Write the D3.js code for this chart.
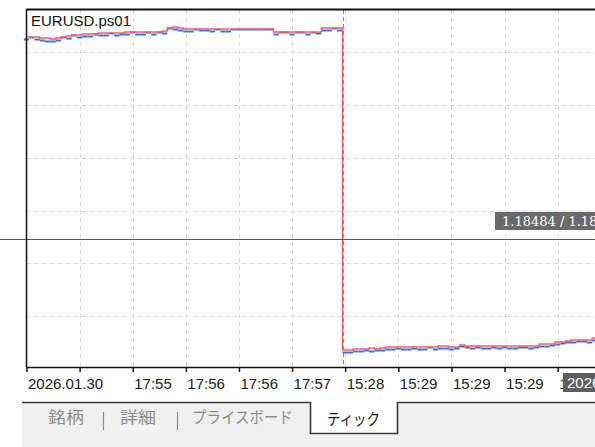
<!DOCTYPE html>
<html>
<head>
<meta charset="utf-8">
<script src="https://cdn.jsdelivr.net/npm/d3@7"></script>
<style>
  body { margin: 0; background: #fff; }
  svg { display: block; }
</style>
</head>
<body>
<svg id="chart" width="595" height="447"></svg>
<script>
// ask (red) and bid (blue) per tick
const askPrices = [
  1.18686, 1.18686, 1.18686, 1.18685, 1.18685, 1.18684, 1.18685, 1.18686, 1.18687, 1.18688,
  1.18688, 1.18689, 1.18689, 1.18689, 1.18690, 1.18690, 1.18690, 1.18690, 1.18690, 1.18691,
  1.18691, 1.18691, 1.18691, 1.18691, 1.18691, 1.18691, 1.18692, 1.18695, 1.18696, 1.18695,
  1.18694, 1.18694, 1.18694, 1.18694, 1.18694, 1.18694, 1.18694, 1.18694, 1.18694, 1.18694,
  1.18694, 1.18694, 1.18694, 1.18694, 1.18694, 1.18694, 1.18694, 1.18691, 1.18691, 1.18691,
  1.18691, 1.18691, 1.18691, 1.18691, 1.18691, 1.18691, 1.18695, 1.18695, 1.18695, 1.18695,
  1.18373, 1.18373, 1.18374, 1.18374, 1.18374, 1.18375, 1.18374, 1.18375, 1.18376, 1.18376,
  1.18376, 1.18376, 1.18376, 1.18376, 1.18376, 1.18376, 1.18376, 1.18376, 1.18377, 1.18377,
  1.18376, 1.18376, 1.18378, 1.18377, 1.18377, 1.18377, 1.18377, 1.18377, 1.18377, 1.18377,
  1.18377, 1.18377, 1.18377, 1.18377, 1.18377, 1.18377, 1.18377, 1.18379, 1.18379, 1.18379,
  1.18381, 1.18381, 1.18382, 1.18383, 1.18383, 1.18383, 1.18383, 1.18385
];
const bidPrices = [
  1.18684, 1.18686, 1.18684, 1.18683, 1.18682, 1.18682, 1.18683, 1.18686, 1.18685, 1.18688,
  1.18686, 1.18687, 1.18687, 1.18689, 1.18688, 1.18688, 1.18690, 1.18688, 1.18689, 1.18689,
  1.18691, 1.18689, 1.18689, 1.18691, 1.18689, 1.18691, 1.18690, 1.18695, 1.18694, 1.18693,
  1.18692, 1.18692, 1.18694, 1.18693, 1.18693, 1.18692, 1.18694, 1.18692, 1.18692, 1.18694,
  1.18694, 1.18694, 1.18694, 1.18694, 1.18694, 1.18694, 1.18694, 1.18689, 1.18691, 1.18691,
  1.18689, 1.18691, 1.18691, 1.18689, 1.18691, 1.18690, 1.18693, 1.18693, 1.18695, 1.18693,
  1.18371, 1.18371, 1.18372, 1.18372, 1.18373, 1.18372, 1.18373, 1.18373, 1.18374, 1.18374,
  1.18375, 1.18374, 1.18374, 1.18375, 1.18374, 1.18374, 1.18376, 1.18374, 1.18375, 1.18375,
  1.18374, 1.18375, 1.18377, 1.18376, 1.18375, 1.18376, 1.18375, 1.18375, 1.18376, 1.18375,
  1.18376, 1.18375, 1.18375, 1.18376, 1.18376, 1.18375, 1.18376, 1.18377, 1.18377, 1.18378,
  1.18379, 1.18380, 1.18381, 1.18381, 1.18382, 1.18382, 1.18381, 1.18383
];
const timeTicks = [0, 10, 20, 30, 40, 50, 60, 70, 80, 90, 100];
const timeLabels = ["2026.01.30", "", "17:55", "17:56", "17:56", "17:57", "15:28", "15:29", "15:29", "15:29", "15:29"];
const gridPrices = [1.18671, 1.18618, 1.18565, 1.18512, 1.18460, 1.18407];
const crossPrice = 1.18484;
const crossTick = 59.6;
const crossPriceText = "1.18484 / 1.18486";
const crossTimeText = "2026.01.30 15:29";
const symbolName = "EURUSD.ps01";
const tabNames = ["銘柄", "詳細", "プライスボード", "ティック"];

const svg = d3.select("#chart");
const W = 595, H = 447;
const plotLeft = 26.5, plotTop = 10, plotBottom = 367;

const x = d3.scaleLinear().domain([0, 107.4]).range([plotLeft, 597]);
const y = d3.scaleLinear().domain([1.18355, 1.18713]).range([368, 10]);
const step = x(1) - x(0);

svg.append("rect").attr("width", W).attr("height", H).attr("fill", "#fff");

// grid
const grid = svg.append("g").attr("stroke", "#d9d9d9").attr("stroke-dasharray", "4,4");
grid.selectAll("line.v").data(timeTicks.slice(1)).enter().append("line")
  .attr("x1", d => Math.round(x(d)) + 0.5).attr("x2", d => Math.round(x(d)) + 0.5)
  .attr("y1", plotTop).attr("y2", plotBottom);
grid.selectAll("line.h").data(gridPrices).enter().append("line")
  .attr("x1", plotLeft).attr("x2", W)
  .attr("y1", d => Math.round(y(d)) + 0.5).attr("y2", d => Math.round(y(d)) + 0.5);

// vertical crosshair
svg.append("line")
  .attr("x1", Math.round(x(crossTick)) + 0.5).attr("x2", Math.round(x(crossTick)) + 0.5)
  .attr("y1", plotTop).attr("y2", plotBottom)
  .attr("stroke", "#8a8a8a").attr("stroke-dasharray", "4,3");

// bid ticks as short blue dashes
const idx = d3.range(askPrices.length);
svg.append("g").selectAll("rect").data(idx).enter().append("rect")
  .attr("x", i => x(i) - step / 2).attr("width", step)
  .attr("y", i => y(bidPrices[i]) - 0.5).attr("height", 2)
  .attr("fill", "#3272f5");

// ask line
const askLine = d3.line().x(i => x(i)).y(i => y(askPrices[i])).curve(d3.curveStep);
svg.append("path").attr("d", askLine(idx)).attr("fill", "none")
  .attr("stroke", "#ff5f5f").attr("stroke-width", 1.5);

// horizontal crosshair
svg.append("line").attr("x1", 0).attr("x2", W)
  .attr("y1", Math.round(y(crossPrice)) + 0.5).attr("y2", Math.round(y(crossPrice)) + 0.5)
  .attr("stroke", "#5a5a5a").attr("stroke-width", 1.2);

// frame
svg.append("line").attr("x1", plotLeft).attr("x2", W).attr("y1", 9.5).attr("y2", 9.5)
  .attr("stroke", "#111").attr("stroke-width", 2);
svg.append("line").attr("x1", plotLeft).attr("x2", plotLeft).attr("y1", 9).attr("y2", plotBottom)
  .attr("stroke", "#111").attr("stroke-width", 1.5);

// x axis
const xAxis = d3.axisBottom(x).tickValues(timeTicks)
  .tickFormat((d, i) => timeLabels[i]).tickSize(5).tickPadding(6);
const ax = svg.append("g").attr("transform", `translate(0,${plotBottom})`).call(xAxis);
ax.select(".domain").attr("stroke", "#111").attr("stroke-width", 1.5)
  .attr("d", `M${plotLeft},0.5H${W}`);
ax.selectAll(".tick line").attr("stroke", "#111").attr("stroke-width", 1.5);
ax.selectAll(".tick text").attr("text-anchor", "start").attr("x", 1)
  .attr("font-family", "Liberation Sans, Arial, sans-serif").attr("font-size", 15)
  .attr("fill", "#1a1a1a");

// symbol title
svg.append("text").attr("x", 31).attr("y", 26).text(symbolName)
  .attr("font-family", "Liberation Sans, Arial, sans-serif").attr("font-size", 15)
  .attr("fill", "#111");

// crosshair labels
const py = Math.round(y(crossPrice));
svg.append("rect").attr("x", 495).attr("y", py - 27).attr("width", 110).attr("height", 18)
  .attr("fill", "#6b6b6b");
svg.append("text").attr("x", 502).attr("y", py - 13).text(crossPriceText)
  .attr("font-family", "DejaVu Serif, serif").attr("font-size", 13).attr("fill", "#fff");
svg.append("rect").attr("x", 563).attr("y", 373).attr("width", 40).attr("height", 19)
  .attr("fill", "#5e5e5e");
svg.append("text").attr("x", 567).attr("y", 388).text(crossTimeText)
  .attr("font-family", "Liberation Sans, Arial, sans-serif").attr("font-size", 15)
  .attr("fill", "#fff");

// tab strip
svg.append("rect").attr("x", 22).attr("y", 402).attr("width", W - 22).attr("height", H - 402)
  .attr("fill", "#f0f0f0");
svg.append("rect").attr("x", 310).attr("y", 401).attr("width", 88).attr("height", 33)
  .attr("fill", "#fff");
svg.append("path").attr("d", "M22,402.5H310.5V433.5H397.5V402.5H595").attr("fill", "none")
  .attr("stroke", "#3a3a3a").attr("stroke-width", 1.6);

const tabX = [48, 120, 192, 327];
const tabW = [36, 36, 101, 53];
svg.selectAll("text.tab").data(tabNames).enter().append("text")
  .attr("x", (d, i) => tabX[i]).attr("y", (d, i) => i === 3 ? 425 : 423)
  .attr("textLength", (d, i) => tabW[i]).attr("lengthAdjust", "spacingAndGlyphs")
  .attr("font-family", "Noto Sans CJK JP, sans-serif").attr("font-size", 16)
  .attr("fill", (d, i) => i === 3 ? "#1a1a1a" : "#8c8c8c")
  .text(d => d);
svg.selectAll("line.sep").data([103.5, 177.5]).enter().append("line")
  .attr("x1", d => d).attr("x2", d => d).attr("y1", 412).attr("y2", 430)
  .attr("stroke", "#8c8c8c").attr("stroke-width", 1.2);
</script>
</body>
</html>
